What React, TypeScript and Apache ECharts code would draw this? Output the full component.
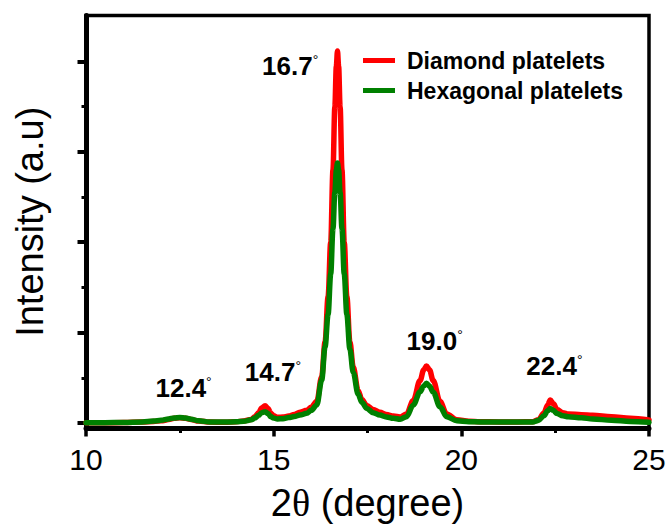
import React, { useEffect, useRef } from "react";
import * as echarts from "echarts";

// 2θ sampling positions (degrees)
const twoTheta = [
  10.0, 10.5, 11.0, 11.5, 11.8, 12.0, 12.2, 12.35, 12.5, 12.65, 12.8, 13.0, 13.3, 13.7,
  14.0, 14.2, 14.4, 14.5, 14.6, 14.68, 14.77, 14.85, 14.92, 15.0, 15.1, 15.25, 15.4, 15.55,
  15.7, 15.88, 16.0, 16.15, 16.28, 16.37, 16.45, 16.52, 16.58, 16.63, 16.67, 16.7, 16.73,
  16.77, 16.82, 16.88, 16.95, 17.03, 17.12, 17.25, 17.35, 17.48, 17.65, 17.83, 18.0, 18.19,
  18.37, 18.54, 18.72, 18.9, 19.0, 19.07, 19.15, 19.25, 19.43, 19.61, 19.88, 20.2, 20.5,
  21.0, 21.5, 21.9, 22.05, 22.2, 22.3, 22.37, 22.45, 22.55, 22.7, 22.85, 23.2, 23.5, 24.0,
  24.5, 25.0,
];

// Diamond platelets intensity (a.u.)
const diamond = [
  3, 3, 5, 10, 18, 24, 38, 52, 58, 52, 38, 22, 10, 8,
  14, 22, 40, 70, 115, 165, 190, 160, 110, 80, 64, 66, 78, 95,
  120, 140, 175, 240, 512, 900, 1400, 2000, 2800, 3500, 3950, 4114, 3950,
  3500, 2800, 2000, 1400, 900, 620, 360, 260, 195, 150, 120, 95, 77,
  68, 100, 250, 470, 590, 630, 590, 470, 240, 100, 35, 20, 15,
  12, 12, 15, 35, 110, 200, 254, 215, 150, 115, 100, 92, 85, 70,
  52, 35,
];

// Hexagonal platelets intensity (a.u.)
const hexagonal = [
  3, 4, 6, 12, 22, 30, 45, 56, 61, 55, 42, 25, 12, 10,
  14, 20, 35, 55, 85, 115, 125, 105, 72, 55, 45, 48, 60, 72,
  88, 107, 140, 200, 475, 844, 1200, 1650, 2150, 2550, 2800, 2876, 2800,
  2550, 2150, 1650, 1200, 820, 560, 320, 230, 162, 115, 88, 68, 52,
  42, 70, 199, 346, 410, 440, 410, 340, 180, 70, 25, 15, 12,
  10, 10, 12, 28, 80, 135, 160, 140, 105, 80, 70, 58, 45, 30,
  18, 8,
];

const seriesNames = ["Diamond platelets", "Hexagonal platelets"];
const seriesColors = ["#ff0000", "#008000"];

const yMajorTicks = [0, 1000, 2000, 3000, 4000];
const yMinorTicks = [500, 1500, 2500, 3500];

// Peak annotations: text and anchor (data units)
const peakText = ["12.4", "14.7", "16.7", "19.0", "22.4"];
const peakLabelX = [12.6, 14.98, 15.44, 19.29, 22.48];
const peakLabelY = [387, 564, 3949, 907, 630];

const FONT = "'Liberation Sans', Arial, Helvetica, sans-serif";
const SERIF = "'Liberation Serif', 'DejaVu Serif', serif";

export default function App() {
  const ref = useRef<HTMLDivElement>(null);

  useEffect(() => {
    if (!ref.current) return;
    const chart = echarts.init(ref.current, null, { renderer: "svg" });
    const toPairs = (ys: number[]) => twoTheta.map((x, i) => [x, ys[i]]);
    const yMin = -55;
    const yMax = 4508;

    chart.setOption({
      animation: false,
      backgroundColor: "#ffffff",
      grid: {
        left: 86,
        right: 18,
        top: 15.5,
        bottom: 96,
        show: true,
        borderColor: "#000",
        borderWidth: 3.5,
        backgroundColor: "transparent",
        containLabel: false,
        outerBoundsMode: "none",
      },
      legend: {
        orient: "vertical",
        left: 363,
        top: 49,
        padding: 0,
        itemWidth: 32,
        itemHeight: 5,
        itemGap: 7,
        icon: "rect",
        data: seriesNames,
        textStyle: {
          fontFamily: FONT,
          fontSize: 23,
          fontWeight: "bold",
          color: "#000",
          padding: [0, 0, 0, 7],
        },
      },
      xAxis: {
        type: "value",
        min: 10,
        max: 25,
        interval: 5,
        name: "2{t|θ} (degree)",
        nameLocation: "middle",
        nameGap: 56,
        nameMoveOverlap: false,
        nameTextStyle: {
          fontFamily: FONT,
          fontSize: 38,
          color: "#000",
          rich: { t: { fontFamily: SERIF, fontSize: 38, color: "#000" } },
        },
        axisLine: { show: true, onZero: false, lineStyle: { color: "#000", width: 5 } },
        axisTick: { show: true, inside: false, length: 8.5, lineStyle: { color: "#000", width: 3.5 } },
        minorTick: { show: true, splitNumber: 2, length: 5, lineStyle: { color: "#000", width: 3 } },
        axisLabel: { show: true, margin: 16, fontFamily: FONT, fontSize: 30, color: "#000" },
        splitLine: { show: false },
        minorSplitLine: { show: false },
      },
      yAxis: [
        {
          type: "value",
          min: yMin,
          max: yMax,
          name: "Intensity (a.u)",
          nameLocation: "middle",
          nameGap: 37,
          nameMoveOverlap: false,
          nameTextStyle: { fontFamily: FONT, fontSize: 38, color: "#000" },
          axisLine: { show: true, onZero: false, lineStyle: { color: "#000", width: 5 } },
          axisTick: {
            show: true,
            inside: false,
            length: 8.5,
            customValues: yMajorTicks,
            lineStyle: { color: "#000", width: 4 },
          },
          axisLabel: { show: false },
          splitLine: { show: false },
        },
        {
          type: "value",
          min: yMin,
          max: yMax,
          position: "left",
          axisLine: { show: false },
          axisTick: {
            show: true,
            inside: false,
            length: 4.5,
            customValues: yMinorTicks,
            lineStyle: { color: "#000", width: 3 },
          },
          axisLabel: { show: false },
          splitLine: { show: false },
        },
      ],
      series: [
        {
          name: seriesNames[0],
          type: "line",
          data: toPairs(diamond),
          showSymbol: false,
          smooth: 0.35,
          smoothMonotone: "x",
          color: seriesColors[0],
          lineStyle: { color: seriesColors[0], width: 5.5, join: "round", cap: "round" },
          z: 2,
        },
        {
          name: seriesNames[1],
          type: "line",
          data: toPairs(hexagonal),
          showSymbol: false,
          smooth: 0.35,
          smoothMonotone: "x",
          color: seriesColors[1],
          lineStyle: { color: seriesColors[1], width: 5.5, join: "round", cap: "round" },
          z: 3,
          markPoint: {
            symbol: "circle",
            symbolSize: 0,
            silent: true,
            label: {
              show: true,
              position: "inside",
              formatter: (p: any) => `{v|${p.name}}{d|°}`,
              rich: {
                v: { fontFamily: FONT, fontSize: 26, fontWeight: "bold", color: "#000" },
                d: { fontFamily: FONT, fontSize: 14, color: "#000", verticalAlign: "top" },
              },
            },
            data: peakText.map((t, i) => ({ name: t, coord: [peakLabelX[i], peakLabelY[i]] })),
          },
        },
      ],
    });

    return () => chart.dispose();
  }, []);

  return (
    <div
      ref={ref}
      style={{ position: "fixed", left: 0, top: 0, width: 667, height: 524, background: "#fff" }}
    />
  );
}
